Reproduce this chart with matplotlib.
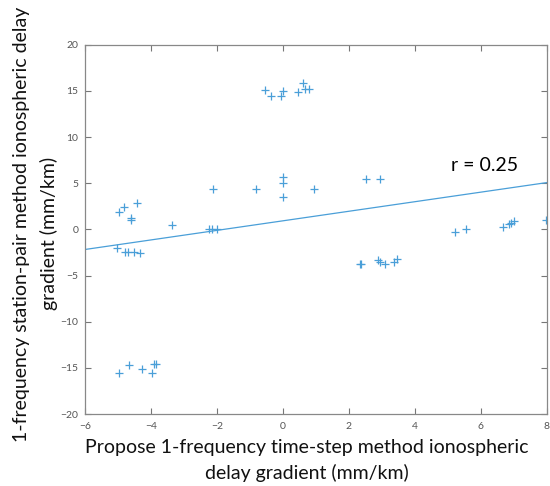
import matplotlib
matplotlib.use('Agg')
import matplotlib.pyplot as plt
import numpy as np

plt.rcParams['font.family'] = ['Lato', 'DejaVu Sans']

# time-step method gradient (x) vs station-pair method gradient (y), mm/km
x_vals = [-0.55, -0.35, -0.05, 0.0, 0.45, 0.6, 0.68, 0.8,
          -2.11, -0.81, 0.0, 0.0, 0.0, 0.93, 2.51, 2.94,
          -4.97, -4.82, -4.61, -4.6, -4.44, -3.37, -2.24, -2.16, -2.0,
          -5.05, -4.78, -4.69, -4.52, -4.34,
          -4.97, -4.67, -4.27, -3.98, -3.9, -3.85,
          2.33, 2.37, 2.88, 2.94, 3.08, 3.36, 3.47,
          5.22, 5.56, 6.66, 6.86, 6.93, 7.01, 7.97]
y_vals = [15.1, 14.45, 14.4, 15.0, 14.9, 15.85, 15.2, 15.2,
          4.37, 4.37, 5.7, 4.97, 3.5, 4.4, 5.5, 5.42,
          1.9, 2.38, 1.19, 1.0, 2.86, 0.5, 0.0, 0.0, 0.0,
          -2.0, -2.4, -2.4, -2.4, -2.6,
          -15.5, -14.7, -15.15, -15.6, -14.6, -14.6,
          -3.76, -3.76, -3.33, -3.55, -3.7, -3.55, -3.26,
          -0.26, 0.0, 0.28, 0.57, 0.65, 0.93, 1.0]

# linear fit drawn across the axis range
fit_slope = 0.517
fit_intercept = 0.93
r_value = 0.25

blue = '#4a9fd8'

fig = plt.figure(figsize=(5.5, 4.86), dpi=100)
ax = fig.add_axes([0.155, 0.148, 0.839, 0.760])

ax.plot(x_vals, y_vals, '+', color=blue, markersize=6, markeredgewidth=0.9)
xl = np.array([-6, 8])
ax.plot(xl, fit_slope * xl + fit_intercept, color=blue, linewidth=0.9)

ax.set_xlim(-6, 8)
ax.set_ylim(-20, 20)
ax.set_xticks(np.arange(-6, 9, 2))
ax.set_yticks(np.arange(-20, 21, 5))
ax.tick_params(direction='in', top=True, right=True, length=4, width=0.8,
               color='#777777', labelcolor='#555555', labelsize=7.5)
ax.tick_params(axis='x', pad=6)
ax.tick_params(axis='y', pad=5)
for s in ax.spines.values():
    s.set_color('#888888')
    s.set_linewidth(0.9)

ax.text(5.1, 6.3, 'r = ' + str(r_value), fontsize=14, color='black')

lab = dict(ha='center', va='center', fontsize=14, color='#111111')
fig.text(0.558, 0.079, 'Propose 1-frequency time-step method ionospheric', **lab)
fig.text(0.558, 0.026, 'delay gradient (mm/km)', **lab)
fig.text(0.040, 0.539, '1-frequency station-pair method ionospheric delay',
         rotation=90, **lab)
fig.text(0.089, 0.519, 'gradient (mm/km)', rotation=90, **lab)

fig.savefig('out.png', dpi=100)
